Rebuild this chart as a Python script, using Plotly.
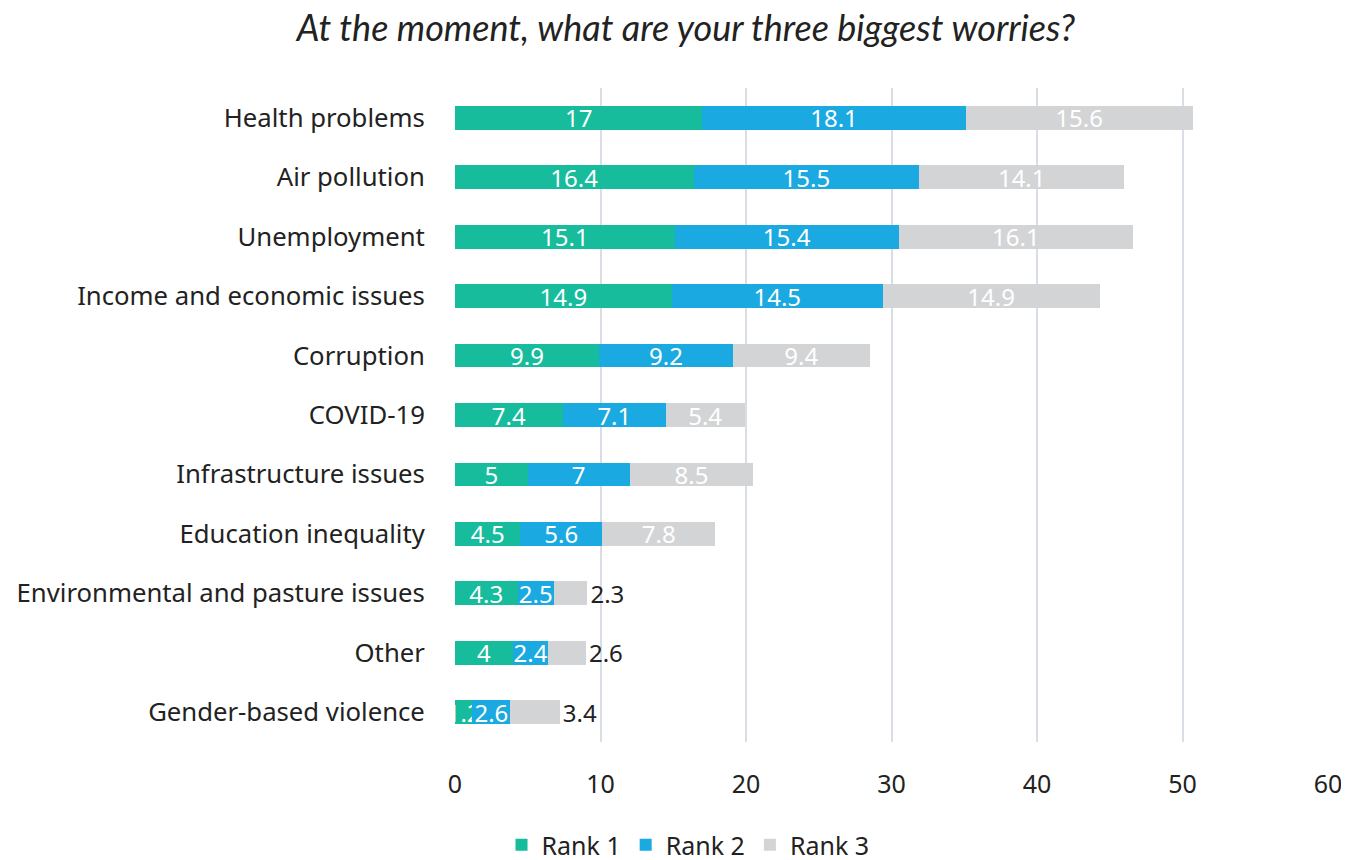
import plotly.graph_objects as go

categories = ["Health problems", "Air pollution", "Unemployment", "Income and economic issues",
              "Corruption", "COVID-19", "Infrastructure issues", "Education inequality",
              "Environmental and pasture issues", "Other", "Gender-based violence"]
rank1 = [17, 16.4, 15.1, 14.9, 9.9, 7.4, 5, 4.5, 4.3, 4, 1.2]
rank2 = [18.1, 15.5, 15.4, 14.5, 9.2, 7.1, 7, 5.6, 2.5, 2.4, 2.6]
rank3 = [15.6, 14.1, 16.1, 14.9, 9.4, 5.4, 8.5, 7.8, 2.3, 2.6, 3.4]
series_names = ["Rank 1", "Rank 2", "Rank 3"]
x_ticks = [0, 10, 20, 30, 40, 50, 60]

colors = ["#17bc9c", "#1aa9e0", "#d3d4d6"]
FONT = "'Noto Sans', 'Open Sans', sans-serif"
TFONT = "Lato, 'Open Sans', sans-serif"

# page body has an 8px margin; figure coordinates are page coordinates minus 8
W, H = 1341, 852

fig = go.Figure()
for name, vals, col in zip(series_names, [rank1, rank2, rank3], colors):
    if name == "Rank 3":
        pos = ["outside" if v < 4 else "inside" for v in vals]
        tcol = ["#222222" if v < 4 else "white" for v in vals]
    else:
        pos = ["inside"] * len(vals)
        tcol = ["white"] * len(vals)
    fig.add_trace(go.Bar(
        y=categories, x=vals, name=name, orientation="h",
        marker=dict(color=col, line=dict(width=0)),
        text=[f"{v:g}" for v in vals], textposition=pos,
        insidetextanchor="middle",
        textfont=dict(color=tcol, size=24, family=FONT),
        textangle=0, cliponaxis=False,
    ))

fig.update_layout(
    barmode="stack",
    bargap=0.6,
    width=W, height=H,
    paper_bgcolor="white", plot_bgcolor="white",
    margin=dict(l=447, r=21, t=80, b=118, autoexpand=False),
    font=dict(family=FONT, size=24, color="#222222"),
    title=dict(text="<i>At the moment, what are your three biggest worries?</i>",
               x=678 / W, xref="container", y=1 - 20 / H, yref="container",
               xanchor="center", yanchor="middle",
               font=dict(size=36, family=TFONT, color="#222222")),
    uniformtext=dict(minsize=22, mode="show"),
    legend=dict(orientation="h", xref="container", yref="container",
                x=680 / W, xanchor="center", y=1 - 837 / H, yanchor="middle",
                font=dict(size=25, family=FONT), itemwidth=30, traceorder="normal"),
    showlegend=True,
)
fig.update_xaxes(range=[0, 60], tickvals=x_ticks, showgrid=True, gridcolor="#d9dde6",
                 gridwidth=1.5, zeroline=False, showline=False, automargin=False,
                 ticks="outside", ticklen=20, tickcolor="rgba(0,0,0,0)",
                 tickfont=dict(size=25, family=FONT, color="#222222"))
fig.update_yaxes(autorange="reversed", showgrid=False, showline=False, zeroline=False,
                 automargin=False,
                 ticks="outside", ticklen=24, tickcolor="rgba(0,0,0,0)",
                 tickfont=dict(size=25.7, family=FONT, color="#222222"))

fig.write_html("out.html")
